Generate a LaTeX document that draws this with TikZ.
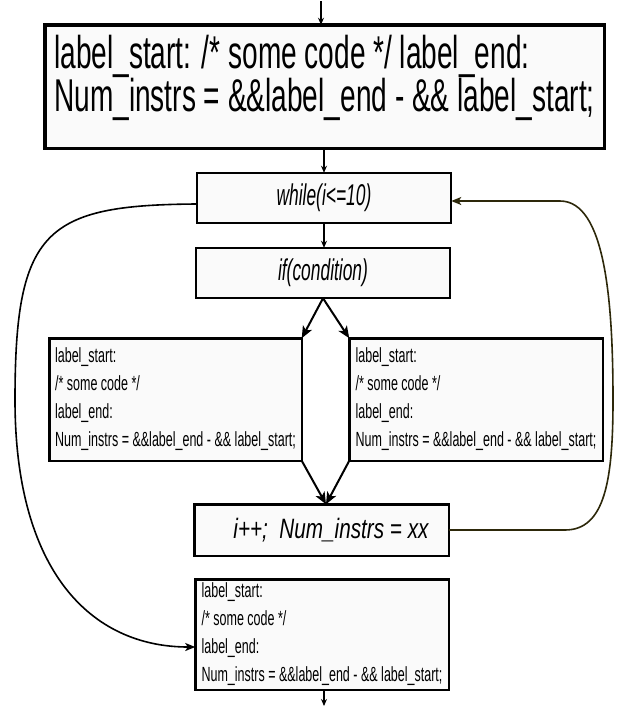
\documentclass[tikz,border=0pt]{standalone}
\usepackage{fontspec}
\setmainfont{Liberation Sans}
\newfontfamily\nfcode[FakeStretch=0.61]{Liberation Sans}
\newfontfamily\nfcond[FakeStretch=0.58]{Liberation Sans}
\newfontfamily\nfwide[FakeStretch=0.74]{Liberation Sans}
\usetikzlibrary{arrows.meta,calc}
\definecolor{curvec}{RGB}{45,40,10}
\begin{document}
\begin{tikzpicture}[x=1pt,y=-1pt,
  box/.style={draw=black, fill=black!2, rectangle, inner sep=0pt, outer sep=0pt},
  codebox/.style={box, line width=2.5pt, align=left, font={\nfcode\fontsize{20.5}{28}\selectfont}},
  ctrlbox/.style={box, line width=1.6pt, minimum width=254.5pt, minimum height=50.5pt, font={\nfcond\itshape\fontsize{30}{36}\selectfont}},
  sarrow/.style={-{Stealth[length=7pt,width=6pt]}, line width=1.3pt},
  barrow/.style={-{Stealth[length=12pt,width=10pt,inset=3pt]}, line width=2pt},
  carrow/.style={-{Stealth[length=10pt,width=8pt,inset=2.5pt]}, line width=1.6pt},
]
\useasboundingbox[fill=white] (0,0) rectangle (619,707);

% nodes
\node[box, line width=3.5pt, minimum width=559.5pt, minimum height=123.5pt, align=left,
      font={\nfcode\fontsize{46}{43}\selectfont}] (topb) at (324.5,86.5)
  {label\_start: /* some code */ label\_end:\\Num\_instrs = \&\&label\_end - \&\& label\_start;\rule[-27pt]{0pt}{0pt}};

\node[ctrlbox] (wh) at (324,198) {while(i<=10)};
\node[ctrlbox] (ifb) at (323,273) {if(condition)};

\node[codebox, minimum width=252.5pt, minimum height=122.5pt] (lb) at (175.5,399.5)
  {label\_start:\\ /* some code */\\ label\_end:\\ Num\_instrs = \&\&label\_end - \&\& label\_start;};
\node[codebox, minimum width=253.5pt, minimum height=122.5pt] (rb) at (476,399.5)
  {label\_start:\\ /* some code */\\ label\_end:\\ Num\_instrs = \&\&label\_end - \&\& label\_start;};

\node[box, line width=2.5pt, minimum width=254.5pt, minimum height=51.5pt,
      font={\nfwide\itshape\fontsize{28}{34}\selectfont}] (ipp) at (321.5,530)
  {\hspace*{19pt}i++;\ \ Num\_instrs = xx};

\node[codebox, minimum width=253.5pt, minimum height=110.5pt] (bb) at (322,634.5)
  {label\_start:\\ /* some code */\\ label\_end:\\ Num\_instrs = \&\&label\_end - \&\& label\_start;};

% connectors
\coordinate (tin) at (321,1);
\coordinate (bout) at (324,706);
\coordinate (mrg) at ([xshift=4.5pt]ipp.north);

\draw[sarrow] (tin) -- (tin |- topb.north);
\draw[sarrow] (wh.north |- topb.south) -- (wh.north);
\draw[sarrow] (wh.south) -- (wh.south |- ifb.north);
\draw[barrow] (ifb.south) -- (lb.north east);
\draw[barrow] (ifb.south) -- (rb.north west);
\draw[barrow] (lb.south east) -- (mrg);
\draw[barrow] (rb.south west) -- (mrg);
\draw[sarrow] (bout |- bb.south) -- (bout);

\draw[carrow] ([yshift=-6pt]wh.west) .. controls (45,205) and (15,230) .. (15,400)
  .. controls (15,570) and (90,647) .. ([yshift=-12.5pt]bb.west);
\draw[carrow, draw=curvec] (ipp.east) -- (565,530) .. controls (605,530) and (613,480) .. (613,400)
  .. controls (613,300) and (605,201) .. (560,201) -- ([yshift=-3pt]wh.east);
\end{tikzpicture}
\end{document}
